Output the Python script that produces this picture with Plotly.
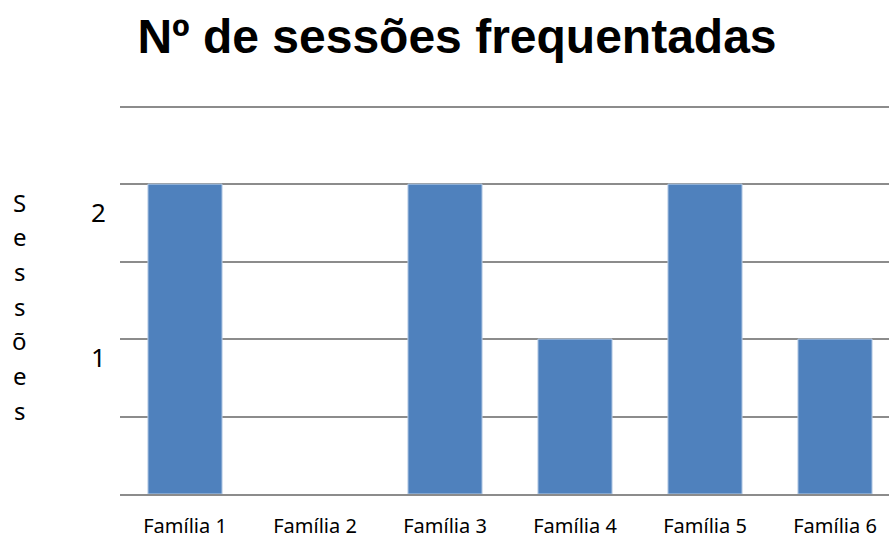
import plotly.graph_objects as go

categories = ["Família 1", "Família 2", "Família 3", "Família 4", "Família 5", "Família 6"]
sessions = [2, 0, 2, 1, 2, 1]
ytick_vals = [1, 2]
ytick_text = ["1", "2"]
title_text = "Nº de sessões frequentadas"
yaxis_title = "Sessões"

W, H = 889, 540
ML, MR, MT, MB = 120, 0, 102, 46

fig = go.Figure()
fig.add_trace(go.Bar(
    x=categories, y=sessions,
    marker=dict(color="#4F81BD",
                line=dict(color="#B9CDE5", width=[1 if v > 0 else 0 for v in sessions])),
    width=0.57,
))

fig.update_layout(
    width=W, height=H,
    margin=dict(l=ML, r=MR, t=MT, b=MB, autoexpand=False),
    paper_bgcolor="white", plot_bgcolor="white",
    showlegend=False,
    title=dict(text="<b>" + title_text + "</b>", x=457 / W, xanchor="center",
               yref="container", y=1 - 36 / H, yanchor="middle",
               font=dict(family="Liberation Sans, Arial", size=48, color="black")),
    font=dict(family="Noto Sans, Open Sans", size=20, color="black"),
)

fig.update_xaxes(range=[-0.5, (W - ML) / 130 - 0.5], showgrid=False, automargin=False,
                 showline=True, linecolor="#8c8c8c", linewidth=1.5,
                 ticks="", ticklabelstandoff=13,
                 tickfont=dict(family="Noto Sans, Open Sans", size=20, color="black"))
fig.update_yaxes(range=[0, 2.53], dtick=0.5, tick0=0, showgrid=True, automargin=False,
                 gridcolor="#8c8c8c", gridwidth=1.5, showticklabels=False,
                 zeroline=False, ticks="")

shifts = [-18, -28]
for v, t, s in zip(ytick_vals, ytick_text, shifts):
    fig.add_annotation(x=0, xref="paper", xanchor="center", xshift=-22,
                       y=v, yref="y", yshift=s, yanchor="middle",
                       text=t, showarrow=False,
                       font=dict(family="Noto Sans, Open Sans", size=26, color="black"))

plot_w = W - ML - MR
plot_h = H - MT - MB
for i, ch in enumerate(yaxis_title):
    px_x, px_y = 20, 202 + i * 34.7
    fig.add_annotation(x=(px_x - ML) / plot_w, xref="paper", xanchor="center",
                       y=(H - MB - px_y) / plot_h, yref="paper", yanchor="middle",
                       text=ch, showarrow=False,
                       font=dict(family="Noto Sans, Open Sans", size=24, color="black"))

fig.write_html("out.html", config={"displayModeBar": False},
               post_script="document.body.style.margin='0';document.body.style.overflow='hidden';")
